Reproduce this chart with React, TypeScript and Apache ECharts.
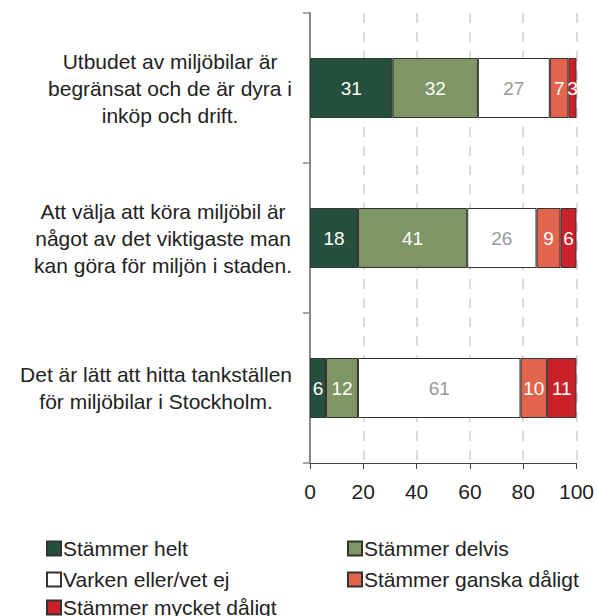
import React, { useEffect, useRef } from "react";
import * as echarts from "echarts";

const categories = [
  "Utbudet av miljöbilar är\nbegränsat och de är dyra i\ninköp och drift.",
  "Att välja att köra miljöbil är\nnågot av det viktigaste man\nkan göra för miljön i staden.",
  "Det är lätt att hitta tankställen\nför miljöbilar i Stockholm.",
];
const seriesNames = [
  "Stämmer helt",
  "Stämmer delvis",
  "Varken eller/vet ej",
  "Stämmer ganska dåligt",
  "Stämmer mycket dåligt",
];
const helt = [31, 18, 6];
const delvis = [32, 41, 12];
const varken = [27, 26, 61];
const ganska = [7, 9, 10];
const mycket = [3, 6, 11];
const xTicks = [0, 20, 40, 60, 80, 100];

const colors = ["#264F3E", "#7E9663", "#FFFFFF", "#E2644C", "#CB2229"];
const labelColors = ["#FFFFFF", "#FFFFFF", "#999999", "#FFFFFF", "#FFFFFF"];
const legendPos = [
  { left: 46, top: 538 },
  { left: 347, top: 538 },
  { left: 46, top: 569 },
  { left: 347, top: 569 },
  { left: 46, top: 597 },
];

export default function App() {
  const ref = useRef<HTMLDivElement>(null);
  useEffect(() => {
    const chart = echarts.init(ref.current!, null, { renderer: "svg" });
    const values = [helt, delvis, varken, ganska, mycket];
    const font = "Liberation Sans, Arial, sans-serif";
    chart.setOption({
      animation: false,
      textStyle: { fontFamily: font },
      grid: { left: 310, right: 17, top: 13, bottom: 153, containLabel: false },
      legend: seriesNames.map((n, i) => ({
        data: [n],
        left: legendPos[i].left,
        top: legendPos[i].top,
        padding: 0,
        itemWidth: 14,
        itemHeight: 14,
        itemGap: 4,
        icon: "rect",
        selectedMode: false,
        textStyle: {
          fontSize: 21,
          lineHeight: 19,
          color: "#222",
          fontFamily: font,
          padding: [0, 0, 0, -3],
        },
      })),
      xAxis: {
        type: "value",
        min: xTicks[0],
        max: xTicks[xTicks.length - 1],
        interval: 20,
        axisLine: { show: true, lineStyle: { color: "#444", width: 1 } },
        axisTick: { show: true, length: 6, lineStyle: { color: "#444" } },
        axisLabel: { fontSize: 21, color: "#222", margin: 18, fontFamily: font },
        splitLine: { show: true, lineStyle: { type: [10, 9], color: "#d0d0d0", width: 1.5 } },
      },
      yAxis: {
        type: "category",
        inverse: true,
        data: categories,
        axisLine: { show: true, lineStyle: { color: "#888", width: 2 } },
        axisTick: { show: true, length: 7, alignWithLabel: false, lineStyle: { color: "#888", width: 1.5 } },
        axisLabel: {
          fontSize: 21,
          color: "#222",
          margin: 18,
          align: "right",
          lineHeight: 27,
          fontFamily: font,
          formatter: (v: string) =>
            v
              .split("\n")
              .map((l) => "{c|" + l + "}")
              .join("\n"),
          rich: {
            c: { align: "center", fontSize: 21, lineHeight: 27, color: "#222", fontFamily: font },
          },
        },
      },
      series: seriesNames.map((n, i) => ({
        name: n,
        type: "bar",
        stack: "total",
        barWidth: "40%",
        data: values[i],
        itemStyle: { color: colors[i], borderColor: "#333", borderWidth: 1 },
        label: {
          show: true,
          position: "inside",
          color: labelColors[i],
          fontSize: 19,
          fontFamily: font,
        },
      })),
    });
    return () => chart.dispose();
  }, []);
  return (
    <div
      ref={ref}
      style={{ position: "fixed", left: 0, top: 0, width: 597, height: 616, background: "#fff" }}
    />
  );
}
